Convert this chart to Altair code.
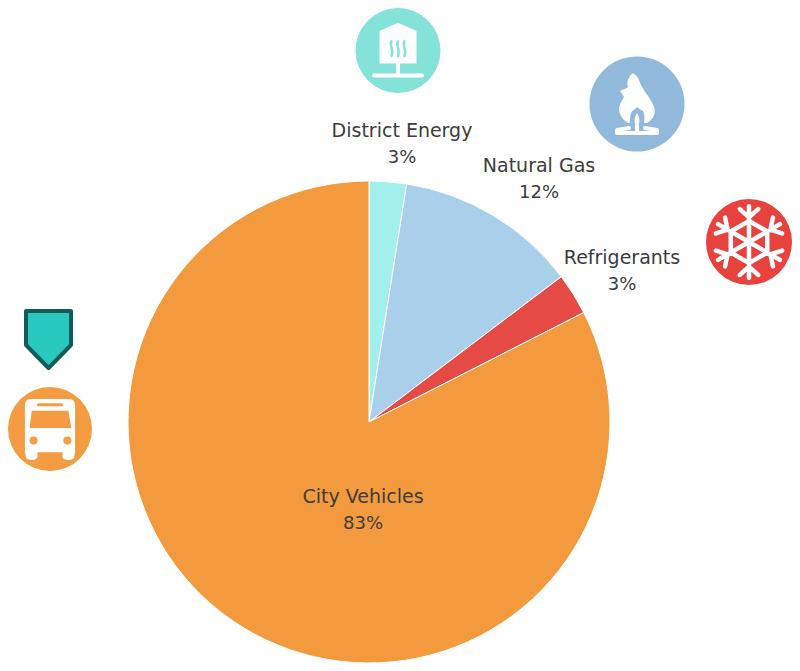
import math
import altair as alt
import pandas as pd

categories = ["District Energy", "Natural Gas", "Refrigerants", "City Vehicles"]
shares = [2.5, 12.2, 2.8, 82.5]
percent_labels = ["3%", "12%", "3%", "83%"]
slice_colors = ["#A2EFEE", "#A9CFEB", "#E64A45", "#F39A3F"]

df = pd.DataFrame({"category": categories, "share": shares, "label": percent_labels,
                   "seq": list(range(len(categories)))})

W, H = 784, 655
M = 8
FONT = "DejaVu Sans"
TEXT = "#3c3c3c"
WHITE = "#ffffff"


def px(v):
    return alt.value(v - M)


anchor = pd.DataFrame({"a": [0]})


def icon(cx, cy, path, scale=1.0, fill=None, stroke=None, sw=0, join="round"):
    kw = {"shape": path, "size": 4 * scale * scale, "filled": fill is not None, "opacity": 1,
          "strokeJoin": join, "strokeCap": "round"}
    if fill is not None:
        kw["fill"] = fill
    if stroke is not None:
        kw["stroke"] = stroke
        kw["strokeWidth"] = sw
    else:
        kw["strokeWidth"] = 0
    return alt.Chart(anchor).mark_point(**kw).encode(x=px(cx), y=px(cy))


def disc(cx, cy, r, color):
    return alt.Chart(anchor).mark_point(shape="circle", size=(2 * r) ** 2, filled=True, fill=color,
                                        opacity=1, strokeWidth=0).encode(x=px(cx), y=px(cy))


def label(category, cx, y1, y2):
    sub = alt.Chart(df).transform_filter(alt.datum.category == category)
    a = sub.mark_text(font=FONT, fontSize=19, color=TEXT, align="center", baseline="middle").encode(
        x=px(cx), y=px(y1), text="category:N")
    b = sub.mark_text(font=FONT, fontSize=18, color=TEXT, align="center", baseline="middle").encode(
        x=px(cx), y=px(y2), text="label:N")
    return [a, b]


pie = alt.Chart(df).mark_arc(outerRadius=241, stroke=WHITE, strokeWidth=1).encode(
    theta=alt.Theta("share:Q", stack=True),
    order=alt.Order("seq:Q"),
    color=alt.Color("category:N", scale=alt.Scale(domain=categories, range=slice_colors), legend=None),
    x=px(369), y=px(422),
)

layers = [pie]
layers += label("District Energy", 402, 131, 158)
layers += label("Natural Gas", 539, 166, 193)
layers += label("Refrigerants", 622, 258, 285)
layers += label("City Vehicles", 363, 497, 524)

# District energy icon
TEAL = "#84E2D9"
dc = (398, 50.5)
ds = 42.5 / 46
house = "M0,-30 L20,-21 L20,14 L-20,14 L-20,-21 Z"
layers += [
    disc(dc[0], dc[1], 42.5, TEAL),
    icon(dc[0], dc[1], house, ds, fill=WHITE),
    icon(dc[0], dc[1], "M0,14 L0,27 M-26,27 L26,27", ds, stroke=WHITE, sw=4),
    icon(dc[0], dc[1],
         "M-7,-10 C-10,-5 -4,-2 -7,6 M0,-10 C-3,-5 3,-2 0,6 M7,-10 C4,-5 10,-2 7,6",
         ds, stroke=TEAL, sw=2.5),
]

# Natural gas icon
BLUE = "#91B9DC"
gc = (637, 104)
flame = ("M-4,-31 C1,-28 2,-24 4,-19 C7,-13 10,-10 13,-5 C17,1 19,6 17,11 C16,15 13,17 10,19 "
         "L-9,19 C-14,16 -17,12 -18,6 C-18,0 -15,-3 -13,-7 L-17,-13 C-14,-15 -11,-15 -9,-17 "
         "C-11,-22 -8,-28 -4,-31 Z")
layers += [
    disc(gc[0], gc[1], 47.5, BLUE),
    icon(gc[0], gc[1], flame, fill=WHITE),
    icon(gc[0], gc[1], "M-7,20 C-8,12 -5,6 -3,6 L0,3 L4,6 C7,6 8,12 7,20 Z", fill=BLUE),
    icon(gc[0], gc[1], "M0,9 C-3,14 -3,18 -1,22 L1,22 C3,18 3,14 0,9 Z", fill=WHITE),
    icon(gc[0], gc[1], "M-20,29 L-20,26 L-8,24 M-20,29 L20,29 L20,26 L8,24 M0,22 L0,28",
         stroke=WHITE, sw=4),
]

# Refrigerant icon: a six-armed snowflake
RED = "#E8423F"
fc = (749, 242)
fs = 43 / 47
parts = []
for k in range(6):
    a = math.radians(60 * k)

    def rot(x, y):
        return f"{x * math.cos(a) - y * math.sin(a):.2f},{x * math.sin(a) + y * math.cos(a):.2f}"

    parts.append(f"M0,0 L{rot(0, -39)}")
    parts.append(f"M{rot(-10, -36)} L{rot(0, -27)} L{rot(10, -36)}")
    parts.append(f"M{rot(0, -23)} L{rot(20, -11.5)}")
flake = " ".join(parts)
layers += [
    disc(fc[0], fc[1], 43, RED),
    icon(fc[0], fc[1], flake, fs, stroke=WHITE, sw=4.5),
]

# City vehicles icon
ORANGE = "#F49C41"
bc = (50, 429)
bs = 42 / 43.5
body = ("M-20,-31 L20,-31 C24,-31 26,-28 26,-24 L26,24 L25,29 C25,33 13,33 13,29 L13,24 L-13,24 "
        "L-13,29 C-13,33 -25,33 -25,29 L-26,24 L-26,-24 C-26,-28 -24,-31 -20,-31 Z")
layers += [
    disc(bc[0], bc[1], 42, ORANGE),
    icon(bc[0], bc[1], body, bs, fill=WHITE),
    icon(bc[0], bc[1], "M-19,-19 L19,-19 L22,-1 L-21,-1 Z", bs, fill=ORANGE),
    icon(bc[0], bc[1], "M-12,-25 L12,-25", bs, stroke=ORANGE, sw=3),
    disc(bc[0] - 17 * bs, bc[1] + 12 * bs, 4, ORANGE),
    disc(bc[0] + 18 * bs, bc[1] + 12 * bs, 4, ORANGE),
]

# Marker pennant
layers.append(icon(48.5, 340, "M-22.5,-29 L22.5,-29 L22.5,5 L0,28 L-22.5,5 Z",
                   fill="#2AC9BF", stroke="#0F5D5A", sw=4))

chart = alt.layer(*layers).properties(
    width=W, height=H, padding=0, background="white",
    autosize=alt.AutoSizeParams(type="none", contains="content"),
).configure_view(stroke=None)

chart.save("out.html", embed_options={"renderer": "svg", "actions": False})
